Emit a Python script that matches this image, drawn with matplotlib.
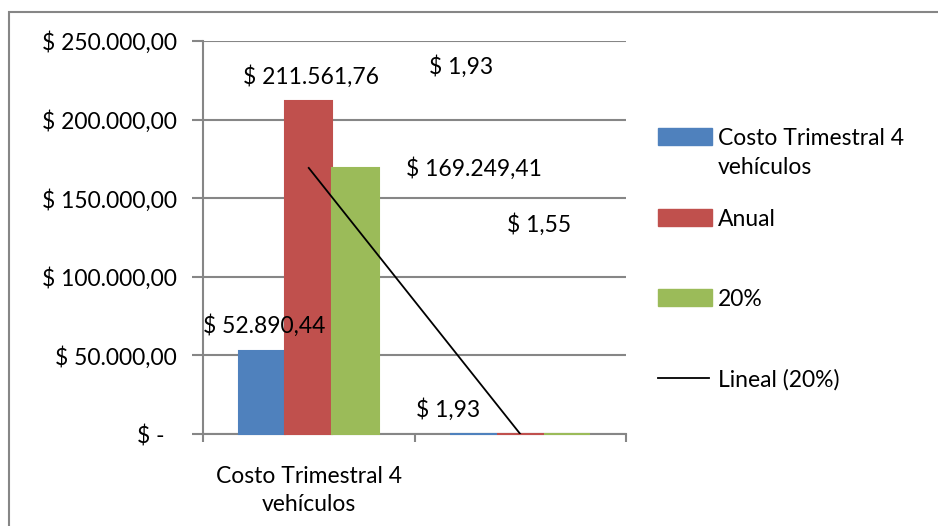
import numpy as np
import matplotlib
matplotlib.use("Agg")
import matplotlib.pyplot as plt
from matplotlib.patches import Rectangle
from matplotlib.lines import Line2D

plt.rcParams['font.family'] = ['Lato', 'DejaVu Sans']

# data
categorias = ["Costo Trimestral 4\nvehículos", ""]
series = ["Costo Trimestral 4\nvehículos", "Anual", "20%"]
costo_trim = [52890.44, 1.93]
anual = [211561.76, 1.93]
veinte = [169249.41, 1.55]
colores = ["#4F81BD", "#C0504D", "#9BBB59"]
yticks = [0, 50000, 100000, 150000, 200000, 250000]

# label positions (category units, value units)
pos_etiquetas = {
    (0, 0): (-0.21, 68700), (1, 0): (0.66, 15300),
    (0, 1): (0.01, 227100), (1, 1): (0.72, 233500),
    (0, 2): (0.78, 169200), (1, 2): (1.09, 133000),
}
FS = 16.5


def pesos(v, dec=2):
    if v == 0:
        return "$ -  "
    s = f"{v:,.{dec}f}"
    s = s.replace(",", "X").replace(".", ",").replace("X", ".")
    return "$ " + s


fig = plt.figure(figsize=(9.38, 5.26), dpi=100)
W, H = 938, 526
ax = fig.add_axes([203 / W, 1 - 434 / H, 423 / W, 393 / H])

x = np.arange(len(categorias))
ancho = 0.22
datos = [costo_trim, anual, veinte]
for i, (vals, c) in enumerate(zip(datos, colores)):
    ax.bar(x + (i - 1) * ancho, vals, ancho, color=c, edgecolor=c,
           linewidth=1.5, zorder=3, clip_on=False)
    for j, v in enumerate(vals):
        px, py = pos_etiquetas[(j, i)]
        ax.text(px, py, pesos(v), ha="center", va="center", fontsize=FS,
                zorder=5)

# linear trend of the 20% series
coef = np.polyfit(x + 1, veinte, 1)
ax.plot(x, np.polyval(coef, x + 1), color="black", lw=1.3, zorder=4)

ax.set_xlim(-0.5, 1.5)
ax.set_ylim(0, 250000)
ax.set_yticks(yticks)
ax.set_yticklabels([pesos(v) for v in yticks], fontsize=FS)
ax.set_xticks(x)
ax.set_xticklabels(categorias, fontsize=FS, linespacing=1.4)
ax.set_xticks([-0.5, 0.5, 1.5], minor=True)
ax.tick_params(axis="x", which="major", length=0, pad=23)
ax.tick_params(axis="x", which="minor", length=6, color="#868686", width=1.5)
ax.tick_params(axis="y", length=8, color="#868686", width=1.5, pad=11)
ax.grid(axis="y", color="#868686", lw=1.5, zorder=0)
for s in ["top", "right"]:
    ax.spines[s].set_visible(False)
for s in ["left", "bottom"]:
    ax.spines[s].set_color("#868686")
    ax.spines[s].set_linewidth(1.5)
    ax.spines[s].set_zorder(2)

# legend
fx = lambda p: p / W
fy = lambda p: 1 - p / H
ley_y = [137, 218, 298]
for lab, c, yy in zip(series, colores, ley_y):
    fig.patches.append(Rectangle((fx(658), fy(yy + 8)), fx(712) - fx(658),
                                 17 / H, color=c, transform=fig.transFigure))
    fig.text(fx(718), fy(yy - 9), lab, ha="left", va="top", fontsize=FS,
             linespacing=1.45)
fig.lines.append(Line2D([fx(658), fx(709)], [fy(378), fy(378)], color="black",
                        lw=1.3, transform=fig.transFigure))
fig.text(fx(718), fy(380), "Lineal (20%)", ha="left", va="center",
         fontsize=FS)

# chart frame
fig.patches.append(Rectangle((fx(9), -0.1), 1.2, fy(12) + 0.1, fill=False,
                             edgecolor="#868686", lw=1.5,
                             transform=fig.transFigure))

fig.savefig("out.png", dpi=100)
